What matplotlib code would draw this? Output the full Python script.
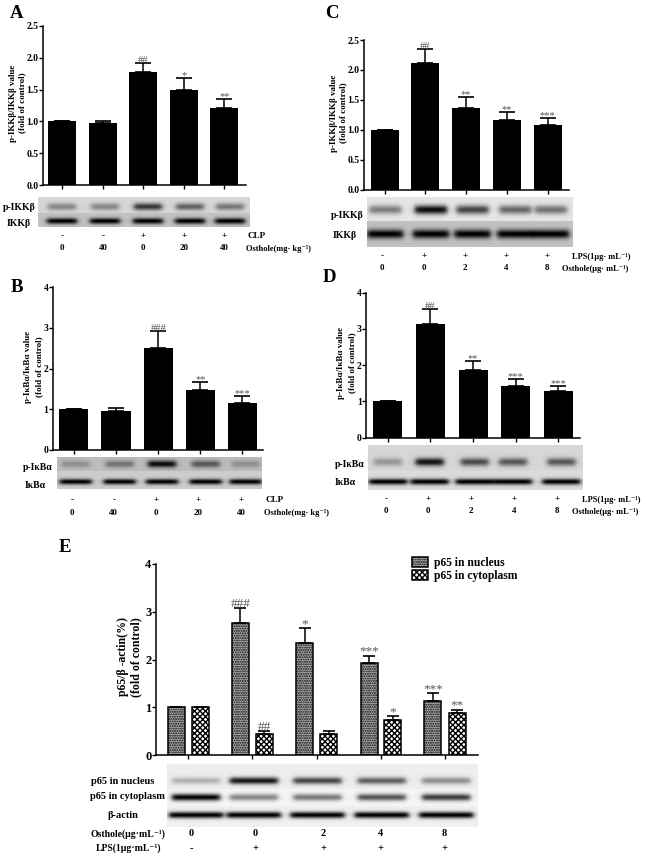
import numpy as np
import matplotlib
matplotlib.use("Agg")
import matplotlib.pyplot as plt

plt.rcParams['font.family'] = ['Liberation Serif', 'DejaVu Serif']
plt.rcParams['font.weight'] = 'bold'
plt.rcParams['hatch.linewidth'] = 1.0

W, H = 650, 860

# panel values
a_mean = [1.0, 0.97, 1.78, 1.49, 1.21]
a_err = [0.0, 0.03, 0.14, 0.19, 0.14]
a_marks = ['', '', '##', '*', '**']
b_mean = [1.0, 0.95, 2.5, 1.47, 1.16]
b_err = [0.0, 0.07, 0.42, 0.2, 0.17]
b_marks = ['', '', '###', '**', '***']
c_mean = [1.0, 2.11, 1.37, 1.17, 1.08]
c_err = [0.0, 0.24, 0.17, 0.13, 0.12]
c_marks = ['', '##', '**', '**', '***']
d_mean = [1.0, 3.15, 1.86, 1.42, 1.28]
d_err = [0.0, 0.41, 0.26, 0.19, 0.14]
d_marks = ['', '##', '**', '***', '***']
e_nuc = [1.0, 2.77, 2.35, 1.93, 1.14]
e_nuc_err = [0.0, 0.31, 0.3, 0.15, 0.15]
e_nuc_marks = ['', '###', '*', '***', '***']
e_cyt = [1.0, 0.45, 0.45, 0.73, 0.87]
e_cyt_err = [0.0, 0.05, 0.06, 0.08, 0.08]
e_cyt_marks = ['', '##', '', '*', '**']

# treatment rows under the blots
clp_signs = ['-', '-', '+', '+', '+']
lps_signs = ['-', '+', '+', '+', '+']
osthole_ab = ['0', '40', '0', '20', '40']
osthole_cd = ['0', '0', '2', '4', '8']

# band darkness per lane
a_blot_p = [0.38, 0.38, 0.75, 0.55, 0.45]
b_blot_p = [0.25, 0.4, 0.95, 0.55, 0.25]
c_blot_p = [0.45, 0.95, 0.7, 0.55, 0.5]
d_blot_p = [0.3, 0.92, 0.65, 0.6, 0.6]
e_blot_nuc = [0.25, 0.9, 0.7, 0.6, 0.4]
e_blot_cyt = [0.98, 0.45, 0.5, 0.65, 0.75]
total_band = [1.0, 1.0, 1.0, 1.0, 1.0]


def rect(x0, x1, ytop, ybot):
    return [x0 / W, 1 - ybot / H, (x1 - x0) / W, (ybot - ytop) / H]


def put(x, y, s, size=6.5, **kw):
    kw.setdefault('ha', 'center')
    kw.setdefault('va', 'center')
    fig.text(x / W, 1 - y / H, s, fontsize=size, **kw)


def ylabel2(x1, x2, y, first, size=6.5):
    put(x1, y, first, size, rotation=90)
    put(x2, y, '(fold of control)', size, rotation=90)


def style(ax, ylim, yticks, yfmt, tsize):
    ax.set_ylim(*ylim)
    ax.set_yticks(yticks)
    ax.set_yticklabels([yfmt % t for t in yticks], fontsize=tsize)
    ax.spines['top'].set_visible(False)
    ax.spines['right'].set_visible(False)
    ax.spines['left'].set_linewidth(1.1)
    ax.spines['bottom'].set_linewidth(1.1)
    ax.tick_params(axis='both', length=2.6, width=1.0, pad=0.6)
    ax.patch.set_alpha(0)


def label_marks(ax, xs, tops, marks, size=7.5):
    for x, t, m in zip(xs, tops, marks):
        if m:
            ax.annotate(m, (x, t), xytext=(0, -1.5), textcoords='offset points',
                        ha='center', va='bottom', fontsize=size, color='#555555',
                        fontweight='normal')


def panel(x0, x1, ytop, ybot, centers, barw, ymax, yticks, yfmt, mean, err, marks):
    ax = fig.add_axes(rect(x0, x1, ytop, ybot))
    ax.set_xlim(x0, x1)
    ax.bar(centers, mean, barw, color='black',
           yerr=[np.zeros(5), err], ecolor='black',
           error_kw=dict(elinewidth=1.1, capsize=5.5, capthick=1.2))
    ax.set_xticks(centers)
    ax.set_xticklabels([])
    style(ax, (0, ymax), yticks, yfmt, 7)
    label_marks(ax, centers, np.array(mean) + np.array(err), marks)
    return ax


def blot(x0, x1, ytop, ybot, rows):
    # rows: (row top, row bottom, background, band y, thickness, lanes, half widths, darkness)
    xx = np.arange(x0, x1) + 0.5
    yy = np.arange(ytop, ybot) + 0.5
    img = np.ones((len(yy), len(xx)))
    for r0, r1, bg, yc, th, lanes, hw, dark in rows:
        sel = (yy >= r0) & (yy < r1)
        g = np.full((sel.sum(), len(xx)), bg)
        yrow = yy[sel][:, None]
        for lx, dk in zip(lanes, dark):
            prof = 0.5 * (np.tanh((xx - lx + hw) / 3.0) - np.tanh((xx - lx - hw) / 3.0))
            g = g - bg * dk * prof * np.exp(-((yrow - yc) / th) ** 2)
        img[sel] = g
    ax = fig.add_axes(rect(x0, x1, ytop, ybot))
    ax.imshow(img, cmap='gray', vmin=0, vmax=1, aspect='auto', interpolation='bilinear')
    ax.axis('off')


def row(xs, y, labels, size=6.5):
    for x, s in zip(xs, labels):
        put(x, y, s, size)


fig = plt.figure(figsize=(W / 100, H / 100), dpi=100)

# A
panel(43, 246, 25.7, 185.3, [62.3, 103, 143.3, 184, 224.3], 27.7, 2.5,
      [0, 0.5, 1, 1.5, 2, 2.5], '%.1f', a_mean, a_err, a_marks)
a_lanes = [62, 105, 148, 190, 230]
blot(38, 250, 197, 227, [
    (197, 213.5, 0.84, 206.7, 3.6, a_lanes, 14, a_blot_p),
    (213.5, 227, 0.76, 221, 3.0, a_lanes, 15, total_band)])
put(17, 13, 'A', 13.5)
ylabel2(12.7, 22, 103, 'p-IKKβ/IKKβ value')
put(19, 207, 'p-IKKβ', 7)
put(19, 223, 'IKKβ', 7)
row([62, 103, 143, 184, 224], 236, clp_signs)
row([62, 103, 143, 184, 224], 248, osthole_ab)
put(248, 236, 'CLP', 6.5, ha='left')
put(246, 249, 'Osthole(mg· kg⁻¹)', 6, ha='left')

# B
panel(53, 263, 287.3, 449.7, [74, 116, 158.3, 200.3, 242.3], 29, 4,
      [0, 1, 2, 3, 4], '%d', b_mean, b_err, b_marks)
b_lanes = [76, 120, 162.3, 206, 246]
blot(57.3, 262.3, 457.3, 489.3, [
    (457.3, 471.3, 0.74, 464.3, 3.6, b_lanes, 14, b_blot_p),
    (471.3, 489.3, 0.8, 482, 2.8, b_lanes, 16, total_band)])
put(17, 287, 'B', 13.5)
ylabel2(28.3, 39, 366.7, 'p-IκBα/IκBα value')
put(38, 467, 'p-IκBα', 7)
put(35, 485, 'IκBα', 7)
row([71.7, 113.7, 155.7, 198.3, 241.3], 500, clp_signs)
row([71.7, 113.7, 155.7, 198.3, 241.3], 512.7, osthole_ab)
put(265.7, 500, 'CLP', 6.5, ha='left')
put(264, 513, 'Osthole(mg· kg⁻¹)', 6, ha='left')

# C
panel(364.3, 569, 40, 189.7, [384.7, 425.3, 466, 506.7, 547.7], 28, 2.5,
      [0, 0.5, 1, 1.5, 2, 2.5], '%.1f', c_mean, c_err, c_marks)
c_lanes = [385, 430.7, 472.3, 515, 550.7]
blot(366.7, 571.7, 197.3, 247.7, [
    (197.3, 221.7, 0.9, 210, 4.5, c_lanes, 16, c_blot_p),
    (221.7, 247.7, 0.76, 234.3, 4.5, c_lanes, 18, total_band)])
put(332, 14, 'C', 13.5)
ylabel2(334, 343.5, 113, 'p-IKKβ/IKKβ value')
put(347.7, 215, 'p-IKKβ', 7)
put(344.7, 236, 'IKKβ', 7)
row([382.3, 424, 464.7, 505.7, 546.7], 255.7, lps_signs)
row([382.3, 424, 464.7, 505.7, 546.7], 267.7, osthole_cd)
put(571.7, 257, 'LPS(1μg· mL⁻¹)', 6, ha='left')
put(562.3, 269, 'Osthole(μg· mL⁻¹)', 6, ha='left')

# D
panel(366.3, 580, 292.7, 437.7, [387.7, 430.3, 473, 515.7, 558.3], 29, 4,
      [0, 1, 2, 3, 4], '%d', d_mean, d_err, d_marks)
d_lanes = [388.3, 430, 475, 513.3, 561.7]
blot(368.3, 582.7, 445.3, 490, [
    (445.3, 471.7, 0.84, 462.3, 4.0, d_lanes, 14, d_blot_p),
    (471.7, 490, 0.86, 482, 3.0, d_lanes, 19, total_band)])
put(329, 277, 'D', 13.5)
ylabel2(341, 352.3, 363, 'p-IκBα/IκBα value')
put(349.3, 464, 'p-IκBα', 7)
put(345, 482, 'IκBα', 7)
row([385.7, 428.3, 471, 513.7, 556.7], 499, lps_signs)
row([385.7, 428.3, 471, 513.7, 556.7], 511.3, osthole_cd)
put(582.3, 500, 'LPS(1μg· mL⁻¹)', 6, ha='left')
put(572.3, 512, 'Osthole(μg· mL⁻¹)', 6, ha='left')

# E
nuc_x = np.array([176, 240.3, 304.7, 369, 433])
cyt_x = np.array([200, 264.3, 328.7, 393, 457.3])
group_x = [188, 252.3, 316.7, 381, 445.3]
ax = fig.add_axes(rect(156, 478, 564, 755))
ax.set_xlim(156, 478)
err_style = dict(elinewidth=1.1, capsize=4.5, capthick=1.2)
nuc_bars = ax.bar(nuc_x, e_nuc, 17, facecolor='#b8b8b8', edgecolor='black', linewidth=1.1,
                  hatch='.......', yerr=[np.zeros(5), e_nuc_err], ecolor='black',
                  error_kw=err_style, label='p65 in nucleus')
cyt_bars = ax.bar(cyt_x, e_cyt, 17, facecolor='white', edgecolor='black', linewidth=1.1,
                  hatch='xxxxxx', yerr=[np.zeros(5), e_cyt_err], ecolor='black',
                  error_kw=err_style, label='p65 in cytoplasm')
ax.set_xticks(group_x)
ax.set_xticklabels([])
style(ax, (0, 4), [0, 1, 2, 3, 4], '%d', 9)
label_marks(ax, nuc_x, np.array(e_nuc) + np.array(e_nuc_err), e_nuc_marks, 9.5)
label_marks(ax, cyt_x, np.array(e_cyt) + np.array(e_cyt_err), e_cyt_marks, 9.5)
ax.legend(handles=[nuc_bars, cyt_bars], loc='upper left',
          bbox_to_anchor=(411 / W, 1 - 556 / H), bbox_transform=fig.transFigure,
          frameon=False, fontsize=8.3, handlelength=1.35, handleheight=0.95,
          handletextpad=0.55, labelspacing=0.1, borderpad=0.1, borderaxespad=0)

e_lanes = [195.7, 253.3, 316.7, 380.7, 445]
blot(166.7, 476.7, 764, 827, [
    (764, 789, 0.93, 780.7, 3.5, e_lanes, 24, e_blot_nuc),
    (789, 806, 0.96, 797.3, 3.5, e_lanes, 24, e_blot_cyt),
    (806, 827, 0.94, 815, 3.2, e_lanes, 27, total_band)])
put(65, 547, 'E', 13.5)
ylabel2(122.7, 136, 657, 'p65/β -actin(%)', 8.5)
put(122.7, 781.7, 'p65 in nucleus', 7.5)
put(127.7, 796.7, 'p65 in cytoplasm', 7.5)
put(122.7, 815.7, 'β-actin', 7.5)
put(127.7, 834, 'Osthole(μg·mL⁻¹)', 7)
put(128.3, 848.3, 'LPS(1μg·mL⁻¹)', 7)
row([191, 255, 323.3, 380, 444], 834, osthole_cd, 7.5)
row([191, 255, 323.3, 380, 444], 848.3, lps_signs, 7.5)

fig.savefig('out.png', dpi=100)
